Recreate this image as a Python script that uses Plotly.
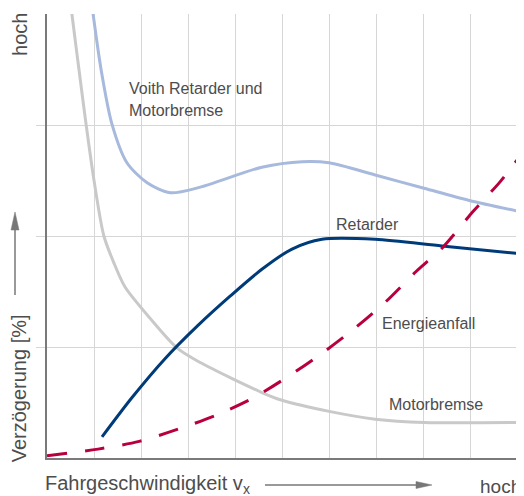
import plotly.graph_objects as go

# ---- data (arbitrary units, x 0..10, y 0..4) ----
motor_x = [0.50, 0.53, 0.68, 0.83, 1.0, 1.21, 1.43, 1.66, 2.19, 2.77, 3.26, 4.57, 5.0, 6.0, 6.98, 8.02, 10.06]
motor_y = [4.13, 4.0, 3.50, 3.01, 2.50, 2.0, 1.75, 1.54, 1.26, 0.99, 0.86, 0.59, 0.52, 0.42, 0.35, 0.32, 0.32]

voith_x = [0.94, 0.98, 1.15, 1.38, 1.70, 2.13, 2.62, 3.26, 4.57, 5.43, 6.0, 6.98, 8.02, 8.98, 10.06]
voith_y = [4.13, 4.0, 3.50, 3.01, 2.66, 2.48, 2.39, 2.44, 2.62, 2.67, 2.66, 2.55, 2.43, 2.32, 2.22]

ret_x = [1.17, 1.8, 2.5, 3.2, 3.9, 4.57, 5.2, 5.85, 6.98, 8.40, 10.06]
ret_y = [0.19, 0.54, 0.89, 1.19, 1.46, 1.70, 1.88, 1.97, 1.97, 1.91, 1.84]

energie_x = [0.0, 1.085, 1.96, 2.79, 3.62, 4.38, 5.15, 5.87, 6.55, 7.21, 7.85, 8.40, 9.06, 9.64, 10.06]
energie_y = [0.02, 0.08, 0.15, 0.26, 0.39, 0.54, 0.74, 0.95, 1.17, 1.41, 1.68, 1.89, 2.22, 2.49, 2.72]

x_grid = [1, 2, 3, 4, 5, 6, 7, 8, 9]
y_grid = [1, 2, 3]

labels = {
    "voith1": "Voith Retarder und",
    "voith2": "Motorbremse",
    "ret": "Retarder",
    "energie": "Energieanfall",
    "motor": "Motorbremse",
}

FONT = "Liberation Sans, Arial, Helvetica, sans-serif"
TXT = "#4d4d4d"
ARROW = "#777777"

fig = go.Figure()
fig.add_trace(go.Scatter(x=motor_x, y=motor_y, mode="lines",
                         line=dict(color="#c9c9c9", width=3, shape="spline", smoothing=0.8)))
fig.add_trace(go.Scatter(x=voith_x, y=voith_y, mode="lines",
                         line=dict(color="#a7b9dc", width=3, shape="spline", smoothing=0.8)))
fig.add_trace(go.Scatter(x=ret_x, y=ret_y, mode="lines",
                         line=dict(color="#003b79", width=3, shape="spline", smoothing=0.8)))
fig.add_trace(go.Scatter(x=energie_x, y=energie_y, mode="lines",
                         line=dict(color="#b8003f", width=3, shape="spline", smoothing=0.8,
                                   dash="20px,18px")))

ann = []
def txt(x, y, s, size=16, xanchor="left", **kw):
    ann.append(dict(x=x, y=y, text=s, showarrow=False, xanchor=xanchor, yanchor="middle",
                    font=dict(family=FONT, size=size, color=TXT), **kw))

txt(1.70, 3.33, labels["voith1"])
txt(1.70, 3.13, labels["voith2"])
txt(6.11, 2.10, labels["ret"])
txt(7.09, 1.21, labels["energie"])
txt(7.23, 0.48, labels["motor"])

# outside labels (paper coordinates)
ann.append(dict(xref="paper", yref="paper", x=-0.057, y=0.953, text="hoch", showarrow=False,
                textangle=-90, xanchor="center", yanchor="middle",
                font=dict(family=FONT, size=20, color=TXT)))
ann.append(dict(xref="paper", yref="paper", x=-0.0585, y=0.1577, text="Verzögerung [%]",
                showarrow=False, textangle=-90, xanchor="center", yanchor="middle",
                font=dict(family=FONT, size=20, color=TXT)))
ann.append(dict(xref="paper", yref="paper", x=-0.0085, y=-0.0608,
                text="Fahrgeschwindigkeit v<sub>x</sub>", showarrow=False,
                xanchor="left", yanchor="middle", font=dict(family=FONT, size=20, color=TXT)))
ann.append(dict(xref="paper", yref="paper", x=0.958, y=-0.064, text="hoch", showarrow=False,
                xanchor="center", yanchor="middle", font=dict(family=FONT, size=19, color=TXT)))

# arrows (paper coordinates)
shapes = [
    dict(type="line", xref="paper", yref="paper", x0=-0.06765, x1=-0.06765, y0=0.3671, y1=0.5180,
         line=dict(color=ARROW, width=1.5)),
    dict(type="path", xref="paper", yref="paper",
         path="M -0.06765,0.5541 L -0.0761,0.5135 L -0.0592,0.5135 Z",
         fillcolor=ARROW, line=dict(color=ARROW, width=0.5)),
    dict(type="line", xref="paper", yref="paper", x0=0.4609, x1=0.7844, y0=-0.0608, y1=-0.0608,
         line=dict(color=ARROW, width=1.5)),
    dict(type="path", xref="paper", yref="paper",
         path="M 0.8140,-0.0608 L 0.7801,-0.0529 L 0.7801,-0.0687 Z",
         fillcolor=ARROW, line=dict(color=ARROW, width=0.5)),
]

# page body adds an 8px offset; figure is sized so the plot lands where the reference has it
fig.update_layout(
    width=516, height=488, autosize=False,
    margin=dict(l=39, r=4, t=6, b=38),
    paper_bgcolor="white", plot_bgcolor="white",
    showlegend=False,
    annotations=ann,
    shapes=shapes,
    xaxis=dict(range=[0, 10.06], tickvals=x_grid, showticklabels=False, showgrid=True,
               gridcolor="#d6d6d6", gridwidth=1, zeroline=False, showline=True,
               linecolor="#7a7a7a", linewidth=2, ticks="", fixedrange=True),
    yaxis=dict(range=[0, 4], tickvals=y_grid, showticklabels=False, showgrid=True,
               gridcolor="#d6d6d6", gridwidth=1, zeroline=False, showline=True,
               linecolor="#7a7a7a", linewidth=2, ticks="outside", ticklen=9,
               tickcolor="#d6d6d6", tickwidth=1, fixedrange=True),
)

fig.write_html("out.html")
